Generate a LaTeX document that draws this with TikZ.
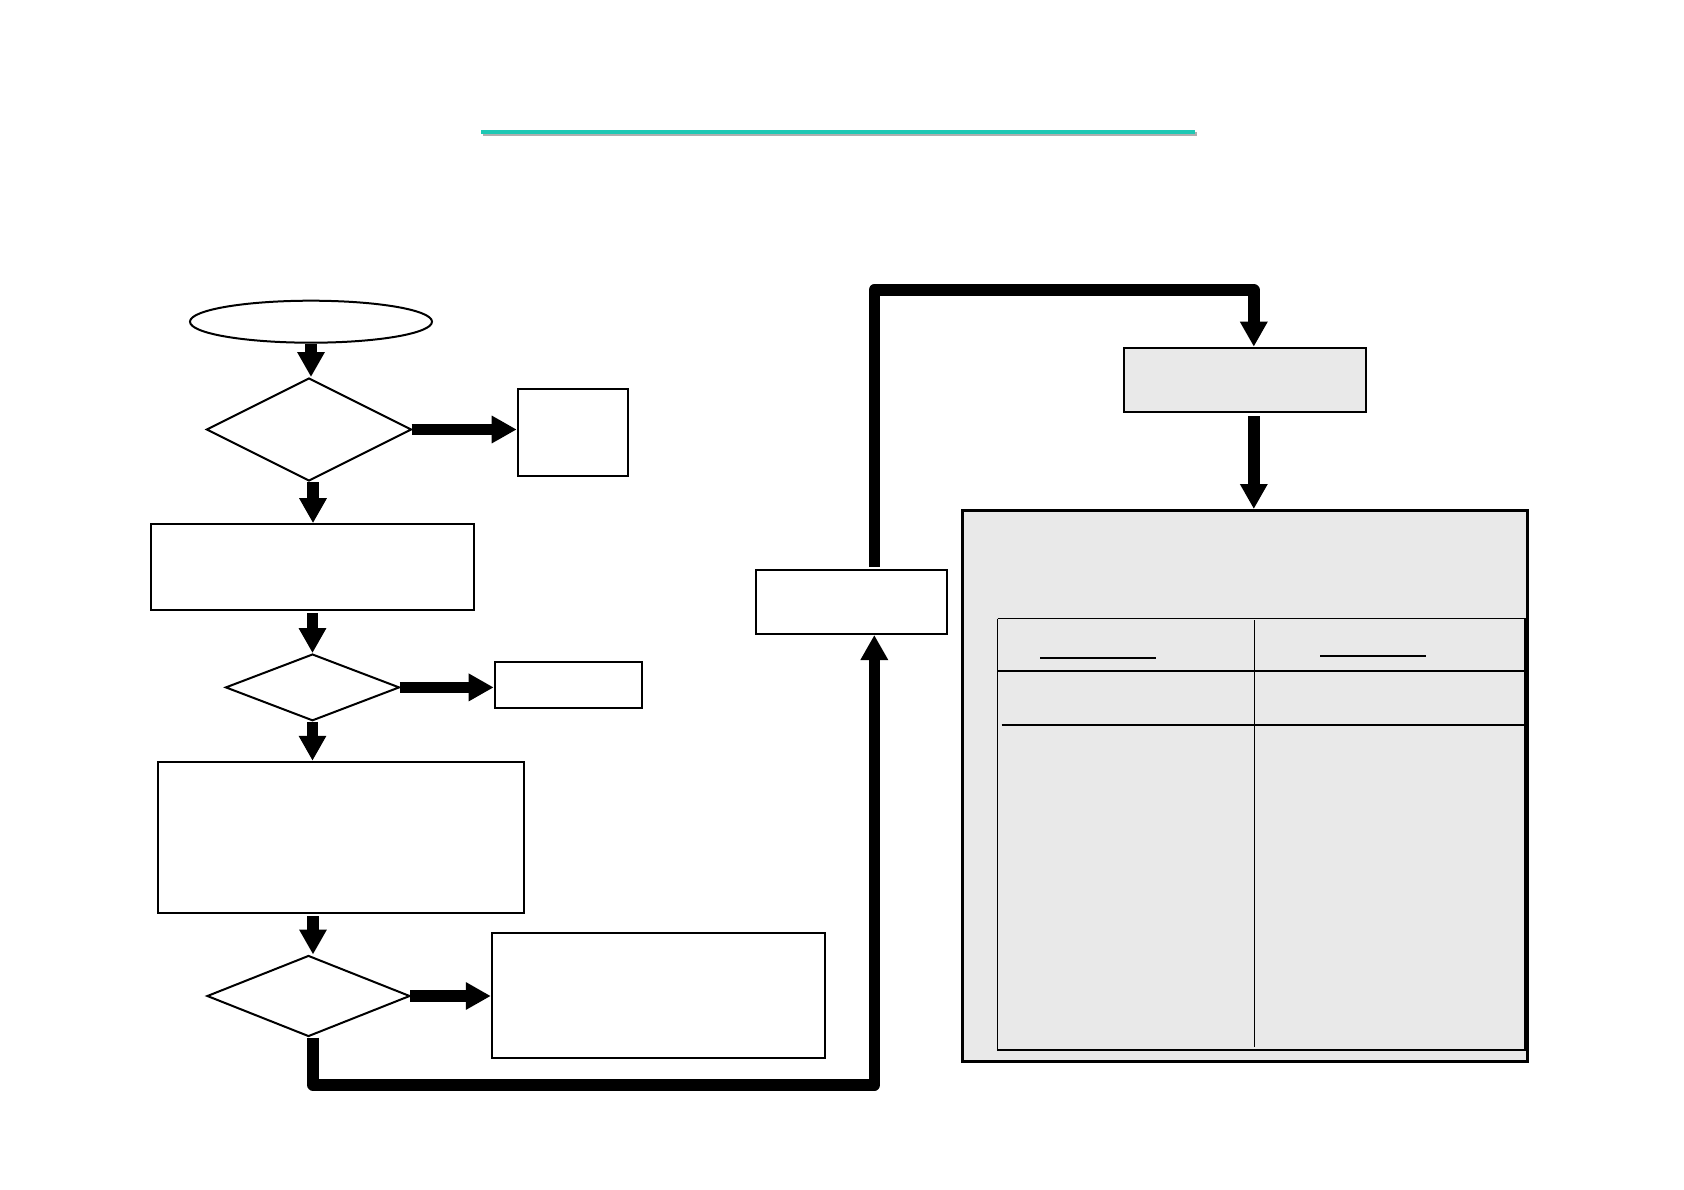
\documentclass[tikz,border=0pt]{standalone}
\usetikzlibrary{shapes.geometric,arrows.meta}
\definecolor{tealline}{RGB}{30,200,180}
\definecolor{shadowgrey}{RGB}{175,175,175}
\definecolor{panelgrey}{RGB}{233,233,233}
\tikzset{
  box/.style={draw=black,line width=2pt,fill=white,inner sep=0pt,rectangle},
  greybox/.style={box,fill=panelgrey},
  panel/.style={draw=black,line width=3pt,fill=panelgrey,inner sep=0pt,rectangle},
  decision/.style={draw=black,line width=2pt,fill=white,diamond,inner sep=0pt},
  startshape/.style={draw=black,line width=2pt,fill=white,ellipse,inner sep=0pt},
  conn/.style={line width=11.4pt,line join=round,-{Triangle[length=25pt,width=26pt]}},
  tabline/.style={line width=1.5pt},
}
\begin{document}
\begin{tikzpicture}[x=1pt,y=-1pt]
\useasboundingbox (0,0) rectangle (1684,1190);
% title rule
\coordinate (t1) at (481,132);
\coordinate (t2) at (1195,132);
\draw[shadowgrey,line width=4pt] ([shift={(2,2.5)}]t1) -- ([shift={(2,2.5)}]t2);
\draw[tealline,line width=4pt] (t1) -- (t2);
% left column
\node[startshape,minimum width=242pt,minimum height=42pt] (e) at (311,321.7) {};
\node[decision,minimum width=205pt,minimum height=103pt] (d1) at (309,429.5) {};
\node[box,minimum width=110.6pt,minimum height=86.7pt] (A) at (573,432.7) {};
\node[box,minimum width=322.6pt,minimum height=85.7pt] (B) at (312.5,567) {};
\node[decision,minimum width=174pt,minimum height=66.7pt] (d2) at (312.5,687.4) {};
\node[box,minimum width=147.6pt,minimum height=46.3pt] (C) at (568.5,684.8) {};
\node[box,minimum width=365.4pt,minimum height=151.3pt] (D) at (341.1,837.4) {};
\node[decision,minimum width=203pt,minimum height=81pt] (d3) at (308.5,996) {};
\node[box,minimum width=333pt,minimum height=124.6pt] (E) at (658.3,995.6) {};
\node[box,minimum width=191.5pt,minimum height=64pt] (F) at (851.5,602) {};
% right side
\node[greybox,minimum width=242.8pt,minimum height=64.6pt] (G) at (1245,380) {};
\node[panel,minimum width=565pt,minimum height=551pt] (H) at (1244.5,786) {};
% table inside panel
\coordinate (tl) at (997.7,618.5);
\coordinate (br) at (1525,1050);
\draw[tabline] (tl) -- (1527,618.5);
\draw[tabline] (tl) -- (997.7,1050) -- (br) -- (1525,618.5);
\draw[tabline] (1254.5,620) -- (1254.5,1047);
\draw[tabline] (997.7,671) -- (1525,671);
\draw[tabline] (1001.5,725) -- (1525,725);
\draw[line width=1.3pt] (1040,658) -- (1156,658);
\draw[line width=1.3pt] (1320,656) -- (1426,656);
% connectors, left column
\draw[conn] (e.south) -- (e.south |- d1.north);
\draw[conn] ([xshift=-1pt]d1.east) -- (d1.east -| A.west);
\draw[conn] ([xshift=4pt]d1.south) -- ([xshift=4pt]d1.south |- B.north);
\draw[conn] ([yshift=-2pt]d2.north |- B.south) -- (d2.north);
\draw[conn] ([xshift=-1pt]d2.east) -- (d2.east -| C.west);
\draw[conn] (d2.south) -- (d2.south |- D.north);
\draw[conn] ([xshift=4.5pt,yshift=-2pt]d3.north |- D.south) -- ([xshift=4.5pt]d3.north);
\draw[conn] ([xshift=-1pt]d3.east) -- (d3.east -| E.west);
% loop to F
\coordinate (fin) at ([xshift=22.8pt]F.south);
\coordinate (low) at (313,1085);
\draw[conn] ([xshift=4.5pt]d3.south) -- (low) -| (fin);
% F to G
\coordinate (fout) at ([xshift=22.8pt,yshift=2pt]F.north);
\coordinate (high) at (874.3,290);
\coordinate (gin) at ([xshift=8.8pt]G.north);
\draw[conn] (fout) -- (high) -| (gin);
% G to H
\coordinate (gout) at ([xshift=8.8pt,yshift=-3pt]G.south);
\draw[conn] (gout) -- (gout |- H.north);
\end{tikzpicture}
\end{document}
